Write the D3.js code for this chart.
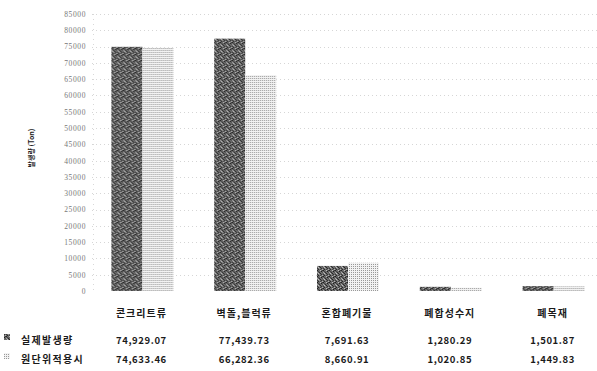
<!DOCTYPE html>
<html>
<head>
<meta charset="utf-8">
<script src="https://cdn.jsdelivr.net/npm/d3@7"></script>
<style>
  html, body { margin: 0; padding: 0; background: #fff; }
  svg { display: block; }
  text { font-family: "Noto Sans CJK KR", "Noto Sans", sans-serif; }
</style>
</head>
<body>
<svg id="chart" width="597" height="371"></svg>
<script>
// Construction waste generation by type (Ton)
const categories = ["콘크리트류", "벽돌,블럭류", "혼합폐기물", "폐합성수지", "폐목재"];
const seriesNames = ["실제발생량", "원단위적용시"];
const actual = [74929.07, 77439.73, 7691.63, 1280.29, 1501.87];
const unitBased = [74633.46, 66282.36, 8660.91, 1020.85, 1449.83];
const yTicks = d3.range(0, 85001, 5000);
const yLabel = "발생량 (Ton)";

const svg = d3.select("#chart");
const fmt = d3.format(",.2f");

// bar textures
const defs = svg.append("defs");
const dark = defs.append("pattern").attr("id", "darkFill")
  .attr("patternUnits", "userSpaceOnUse").attr("width", 6).attr("height", 6);
dark.append("rect").attr("width", 6).attr("height", 6).attr("fill", "#6a6a6a");
const darkDots = [
  [0,0,"#222"],[3,0,"#bdbdbd"],[5,0,"#3a3a3a"],
  [1,1,"#444"],[4,1,"#1e1e1e"],
  [2,2,"#2c2c2c"],[0,2,"#a8a8a8"],[5,2,"#555"],
  [1,3,"#c4c4c4"],[3,3,"#262626"],
  [0,4,"#3a3a3a"],[2,4,"#999"],[4,4,"#333"],
  [1,5,"#2a2a2a"],[3,5,"#4a4a4a"],[5,5,"#b0b0b0"]
];
darkDots.forEach(([x, yy, c]) => dark.append("rect").attr("x", x).attr("y", yy)
  .attr("width", 1).attr("height", 1).attr("fill", c));

const light = defs.append("pattern").attr("id", "lightFill")
  .attr("patternUnits", "userSpaceOnUse").attr("width", 2).attr("height", 2);
light.append("rect").attr("width", 2).attr("height", 2).attr("fill", "#f2f2f2");
light.append("rect").attr("width", 1).attr("height", 1).attr("fill", "#999");

const fills = ["url(#darkFill)", "url(#lightFill)"];

const x0 = d3.scaleBand().domain(categories).range([92, 606]).paddingInner(0).paddingOuter(0);
const x1 = d3.scaleBand().domain(seriesNames).range([0, 62]);
const y = d3.scaleLinear().domain([0, 85000]).range([291, 14]);

// faint dotted gridlines
svg.append("g").selectAll("line").data(yTicks.slice(1)).join("line")
  .attr("x1", 92).attr("x2", 597)
  .attr("y1", d => Math.round(y(d)) + 0.5).attr("y2", d => Math.round(y(d)) + 0.5)
  .attr("stroke", "#d6d6d6").attr("stroke-width", 1).attr("stroke-dasharray", "1,3");
svg.append("line").attr("x1", 93.5).attr("x2", 93.5).attr("y1", 14).attr("y2", 291)
  .attr("stroke", "#d8d8d8").attr("stroke-dasharray", "1,4");

// y axis tick labels
const yAxis = d3.axisLeft(y).tickValues(yTicks).tickFormat(d3.format("d")).tickSize(0).tickPadding(0);
const ga = svg.append("g").attr("transform", "translate(86,0)").call(yAxis);
ga.select(".domain").remove();
ga.selectAll("text").attr("font-size", 7.5).attr("fill", "#777")
  .attr("letter-spacing", 0.6).style("font-family", "'Liberation Serif', serif");

svg.append("text").attr("transform", "translate(34,148) rotate(-90)")
  .attr("text-anchor", "middle").attr("font-size", 7).attr("fill", "#222")
  .attr("font-weight", "bold").text(yLabel);

// bars
const seriesData = [actual, unitBased];
const groups = svg.append("g").selectAll("g").data(categories).join("g")
  .attr("transform", d => `translate(${x0(d) + (x0.bandwidth() - 62) / 2 - 1},0)`);
groups.selectAll("rect").data((d, i) => seriesNames.map((s, j) => ({ s, j, v: seriesData[j][i] })))
  .join("rect")
  .attr("x", d => x1(d.s)).attr("width", x1.bandwidth())
  .attr("y", d => y(d.v)).attr("height", d => y(0) - y(d.v))
  .attr("fill", d => fills[d.j]);

// category labels
svg.append("g").selectAll("text").data(categories).join("text")
  .attr("x", d => x0(d) + x0.bandwidth() / 2 - 2).attr("y", 317)
  .attr("text-anchor", "middle").attr("font-size", 10).attr("font-weight", "bold")
  .attr("letter-spacing", 1).attr("fill", "#1a1a1a").text(d => d);

// data table
const rowsY = [344, 363];
seriesNames.forEach((name, j) => {
  const ry = rowsY[j];
  svg.append("rect").attr("x", 4).attr("y", ry - 10).attr("width", 6).attr("height", 6)
    .attr("fill", fills[j]);
  svg.append("text").attr("x", 21).attr("y", ry).attr("font-size", 10).attr("font-weight", "bold")
    .attr("letter-spacing", 1.3).attr("fill", "#1a1a1a").text(name);
  svg.append("g").selectAll("text").data(seriesData[j]).join("text")
    .attr("x", (d, i) => x0(categories[i]) + x0.bandwidth() / 2 - 2).attr("y", ry)
    .attr("text-anchor", "middle").attr("font-size", 9.5).attr("font-weight", "bold")
    .attr("letter-spacing", 0.6).attr("fill", "#1a1a1a").text(d => fmt(d));
});
</script>
</body>
</html>
